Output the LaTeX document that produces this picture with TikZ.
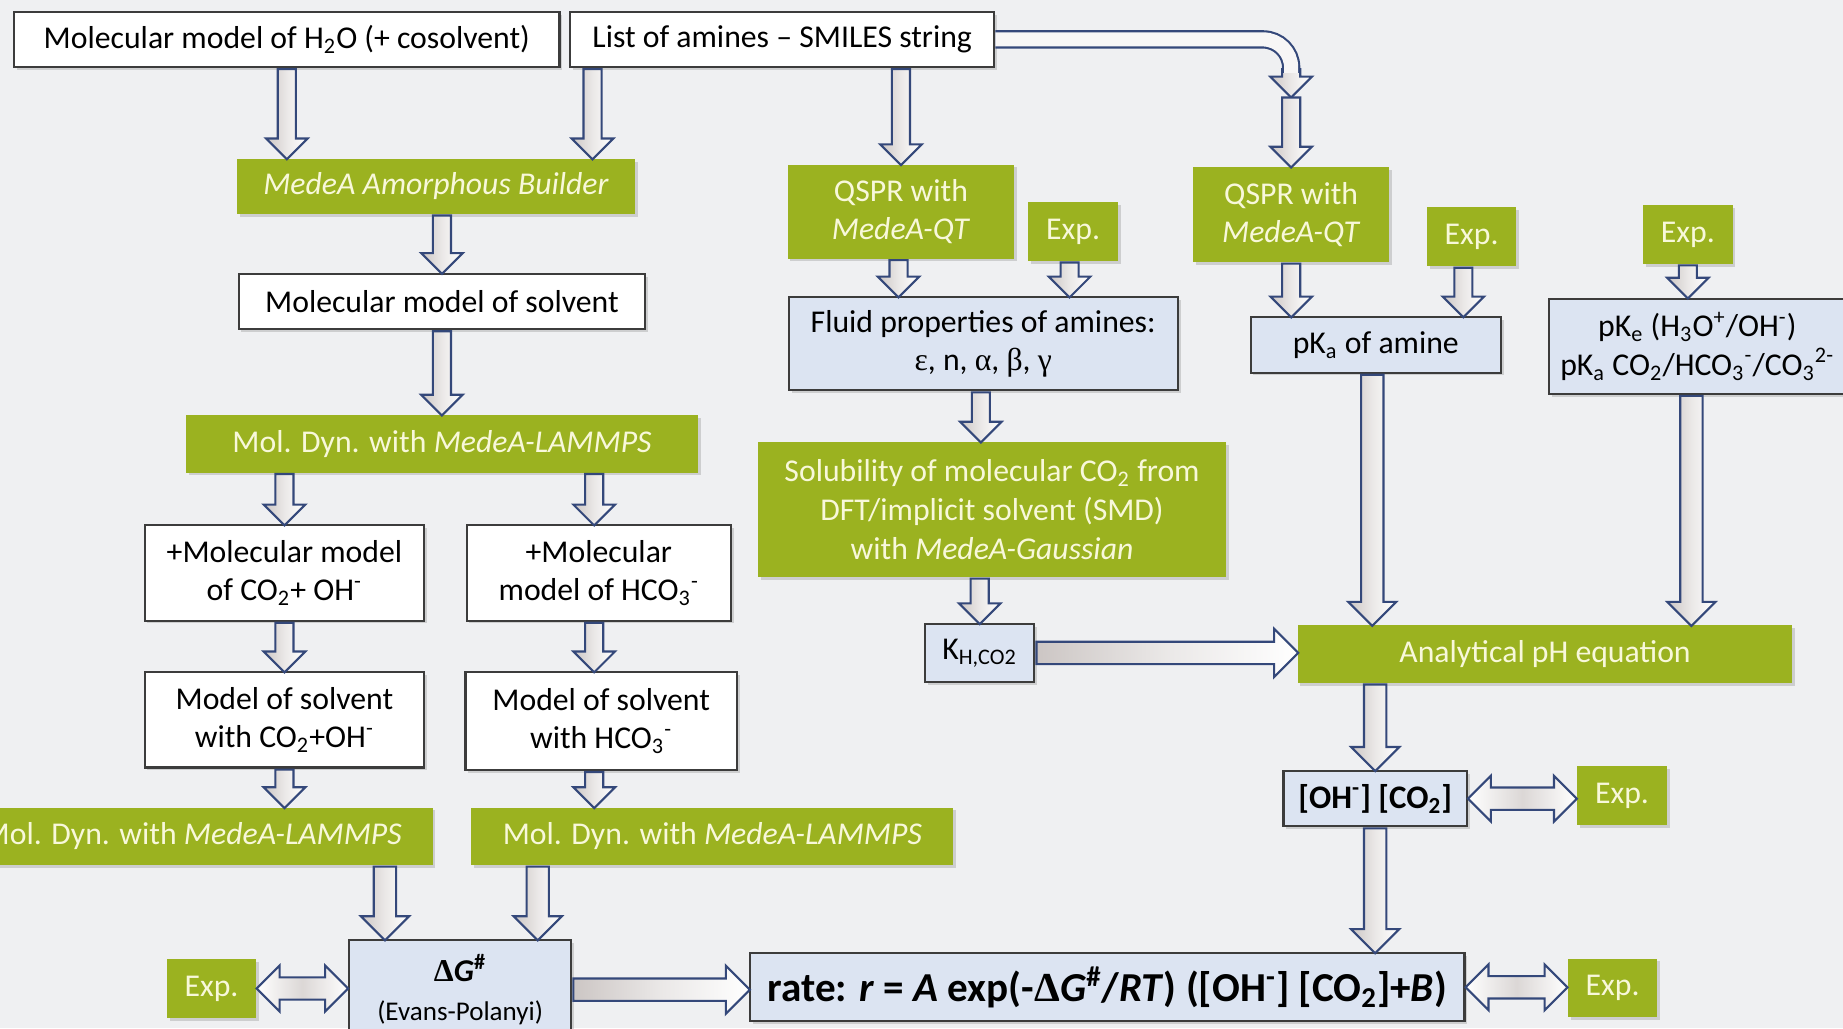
\documentclass[tikz,border=0pt]{standalone}
\usepackage{fontspec}
\setmainfont{Carlito}
\newfontfamily\grk{Liberation Serif}
\usetikzlibrary{shapes.arrows, positioning, shadows, calc}

\definecolor{bgcol}{RGB}{239,240,242}
\definecolor{leaf}{RGB}{155,178,32}
\definecolor{leaftext}{RGB}{248,248,218}
\definecolor{pale}{RGB}{220,228,242}
\definecolor{rim}{RGB}{60,60,60}
\definecolor{arrline}{RGB}{52,72,122}
\definecolor{arrgray}{RGB}{204,198,196}

\tikzset{
  base/.style={rectangle, align=center, inner sep=0pt,
    drop shadow={shadow xshift=1.2pt, shadow yshift=-1.2pt, opacity=0.3}},
  whitebox/.style={base, fill=white, draw=rim, line width=0.9pt},
  greenbox/.style={base, fill=leaf, text=leaftext},
  bluebox/.style={base, fill=pale, draw=rim, line width=0.9pt},
  expbox/.style={greenbox, minimum width=38pt, minimum height=25pt},
  % hollow arrows
  smallhead/.style={single arrow, anchor=tail, draw=arrline, line width=0.9pt,
    inner sep=0pt, inner ysep=3.4pt, minimum width=0pt, single arrow head extend=5pt,
    single arrow tip angle=90, left color=arrgray, right color=white,
    middle color=white!60!arrgray},
  bighead/.style={smallhead, inner ysep=4.3pt, single arrow head extend=5.5pt},
  twohead/.style={double arrow, draw=arrline, line width=0.9pt, inner sep=0pt,
    inner ysep=4.3pt, minimum width=0pt, double arrow head extend=5pt,
    double arrow tip angle=90,
    left color=white, right color=white, middle color=arrgray!70},
  fat/.style={to path={let \p1=(\tikztostart), \p2=(\tikztotarget),
      \n1={veclen(\x2-\x1,\y2-\y1)}, \n2={atan2(\y2-\y1,\x2-\x1)} in
      node[#1, minimum height=\n1, rotate=\n2] at (\p1) {}}},
  fat/.default=smallhead,
  fatboth/.style={to path={let \p1=(\tikztostart), \p2=(\tikztotarget),
      \n1={veclen(\x2-\x1,\y2-\y1)}, \n2={atan2(\y2-\y1,\x2-\x1)} in
      node[twohead, minimum height=\n1, rotate=\n2] at ($(\p1)!0.5!(\p2)$) {}}},
}

\begin{document}
\begin{tikzpicture}[x=0.5pt, y=-0.5pt,
    every node/.style={font=\fontsize{13.5}{16.5}\selectfont}]

\useasboundingbox (0,0) rectangle (1568,875);
\fill[bgcol] (0,0) rectangle (1568,875);
\clip (0,0) rectangle (1568,875);

% Inputs
\node[whitebox, minimum width=232pt, minimum height=23.5pt] (h2o) at (244,33.5)
  {Molecular model of H\textsubscript{2}O (+ cosolvent)};
\node[whitebox, minimum width=180.5pt, minimum height=23.5pt] (amines) at (665.5,33.5)
  {List of amines – SMILES string};

% Solvent branch
\node[greenbox, minimum width=169pt, minimum height=23.5pt] (builder) at (371,158.5)
  {\textit{MedeA Amorphous Builder}};
\node[whitebox, minimum width=173pt, minimum height=23.5pt] (solv) at (376,256.5)
  {Molecular model of solvent};
\node[greenbox, minimum width=218pt, minimum height=24.5pt] (md) at (376,377.5)
  {Mol. Dyn. with \textit{MedeA-LAMMPS}};

\node[whitebox, minimum width=119pt, minimum height=40.5pt] (addoh) at (242,487.5)
  {+Molecular model\\of CO\textsubscript{2}+ OH\textsuperscript{-}};
\node[whitebox, minimum width=112.5pt, minimum height=40.5pt] (addhco) at (509.5,487.5)
  {+Molecular\\model of HCO\textsubscript{3}\textsuperscript{-}};
\node[whitebox, minimum width=119pt, minimum height=40.5pt] (solvoh) at (242,612.5)
  {Model of solvent\\with CO\textsubscript{2}+OH\textsuperscript{-}};
\node[whitebox, minimum width=115.5pt, minimum height=41.5pt] (solvhco) at (511.5,613.5)
  {Model of solvent\\with HCO\textsubscript{3}\textsuperscript{-}};

\node[greenbox, minimum width=204.5pt, minimum height=24.5pt] (mdl) at (163.5,711.5)
  {Mol. Dyn. with \textit{MedeA-LAMMPS}};
\node[greenbox, minimum width=205pt, minimum height=24.5pt] (mdr) at (606,711.5)
  {Mol. Dyn. with \textit{MedeA-LAMMPS}};

% Barrier and rate
\node[bluebox, minimum width=94.5pt, minimum height=42pt] (dg) at (391.5,842)
  {\textbf{{\grk Δ}\textit{G}\textsuperscript{\#}}\\{\fontsize{11.5}{14}\selectfont (Evans-Polanyi)}};
\node[expbox] (expdg) at (180,841) {Exp.};
\node[bluebox, minimum width=304pt, minimum height=29pt,
      font=\fontsize{17.5}{20}\selectfont\bfseries] (rate) at (942,840)
  {rate: \textit{r} = \textit{A} exp(-{\grk Δ}\textit{G}\textsuperscript{\#}/\textit{RT}) ([OH\textsuperscript{-}] [CO\textsubscript{2}]+\textit{B})};
\node[expbox] (exprate) at (1372,840.5) {Exp.};

% Amine properties
\node[greenbox, minimum width=96.5pt, minimum height=40pt] (qspr1) at (766.5,180)
  {QSPR with\\\textit{MedeA-QT}};
\node[expbox] (exp1) at (913,197) {Exp.};
\node[bluebox, minimum width=165.5pt, minimum height=39.5pt] (fluid) at (836.5,292.5)
  {Fluid properties of amines:\\{\grk ε}, n, {\grk α}, {\grk β}, {\grk γ}};
\node[greenbox, minimum width=199pt, minimum height=57.5pt] (solub) at (844,433.5)
  {Solubility of molecular CO\textsubscript{2} from\\DFT/implicit solvent (SMD)\\with \textit{MedeA-Gaussian}};
\node[bluebox, minimum width=46.5pt, minimum height=24.5pt] (kh) at (833.5,555.5)
  {K\textsubscript{H,CO2}};

\node[greenbox, minimum width=83.5pt, minimum height=40.5pt] (qspr2) at (1098.5,182.5)
  {QSPR with\\\textit{MedeA-QT}};
\node[expbox] (exp2) at (1252,201.5) {Exp.};
\node[bluebox, minimum width=106.5pt, minimum height=23.5pt] (pka) at (1170.5,293.5)
  {pK\textsubscript{a} of amine};
\node[expbox] (exp3) at (1436,199.5) {Exp.};
\node[bluebox, minimum width=126pt, minimum height=40.5pt] (pke) at (1444,294.5)
  {pK\textsubscript{e} (H\textsubscript{3}O\textsuperscript{+}/OH\textsuperscript{-})\\pK\textsubscript{a} CO\textsubscript{2}/HCO\textsubscript{3}\textsuperscript{-}/CO\textsubscript{3}\textsuperscript{2-}};

% pH
\node[greenbox, minimum width=210.5pt, minimum height=24.5pt] (ph) at (1314.5,556.5)
  {Analytical pH equation};
\node[bluebox, minimum width=78pt, minimum height=23.5pt,
      font=\fontsize{14}{17}\selectfont\bfseries] (ohco) at (1170,679.5)
  {[OH\textsuperscript{-}] [CO\textsubscript{2}]};
\node[expbox] (expoh) at (1380,677) {Exp.};

% Arrows, solvent branch
\path[fat] (h2o.south) to (h2o.south |- builder.north);
\path[fat] ([xshift=10pt]amines.south west) to ([xshift=10pt]amines.south west |- builder.north);
\path[fat] (solv.north |- builder.south) to (solv.north);
\path[fat] (solv.south) to (md.north);
\path[fat] (addoh.north |- md.south) to (addoh.north);
\path[fat] ([xshift=-2pt]addhco.north |- md.south) to ([xshift=-2pt]addhco.north);
\path[fat] (addoh.south) to (solvoh.north);
\path[fat] ([xshift=-2pt]addhco.south) to ([xshift=-2pt]addhco.south |- solvhco.north);
\path[fat] (solvoh.south) to (solvoh.south |- mdl.north);
\path[fat] ([xshift=-2pt]addhco.south |- solvhco.south) to ([xshift=-2pt]addhco.south |- mdr.north);
\path[fat=bighead] ([xshift=-32pt]dg.north |- mdl.south) to ([xshift=-32pt]dg.north);
\path[fat=bighead] ([xshift=33pt]dg.north |- mdr.south) to ([xshift=33pt]dg.north);
\path[fatboth] (expdg.east) to (expdg.east -| dg.west);
\path[fat=bighead] (dg.east -| dg.east) to (dg.east -| rate.west);
\path[fatboth] (rate.east) to (rate.east -| exprate.west);

% Arrows, amine branch
\path[fat] (qspr1.north |- amines.south) to (qspr1.north);
\coordinate (bendtip) at (1098.5,82);
\path[fat] ([yshift=12pt]bendtip) to (bendtip);
\draw[arrline, line width=0.9pt, double=white!85!arrgray, double distance=6pt, rounded corners=12pt]
  (amines.east) -| ([yshift=10pt]bendtip);
\path[fat] (bendtip) to (qspr2.north);
\path[fat] ([xshift=-1pt]qspr1.south) to ([xshift=-1pt]qspr1.south |- fluid.north);
\path[fat] ([xshift=-1.5pt]exp1.south) to ([xshift=-1.5pt]exp1.south |- fluid.north);
\path[fat] ([xshift=-1pt]fluid.south) to ([xshift=-1pt]fluid.south |- solub.north);
\path[fat] (kh.north |- solub.south) to (kh.north);
\path[fat=bighead] (kh.east) to (kh.east -| ph.west);
\path[fat] (qspr2.south) to (qspr2.south |- pka.north);
\path[fat] ([xshift=-3.5pt]exp2.south) to ([xshift=-3.5pt]exp2.south |- pka.north);
\path[fat] (exp3.south) to (exp3.south |- pke.north);
\path[fat=bighead] ([xshift=-1.5pt]pka.south) to ([xshift=-1.5pt]pka.south |- ph.north);
\path[fat=bighead] ([xshift=-2.5pt]pke.south) to ([xshift=-2.5pt]pke.south |- ph.north);
\path[fat=bighead] (ohco.north |- ph.south) to (ohco.north);
\path[fatboth] (ohco.east) to (ohco.east -| expoh.west);
\path[fat=bighead] (ohco.south) to (ohco.south |- rate.north);

\end{tikzpicture}
\end{document}
